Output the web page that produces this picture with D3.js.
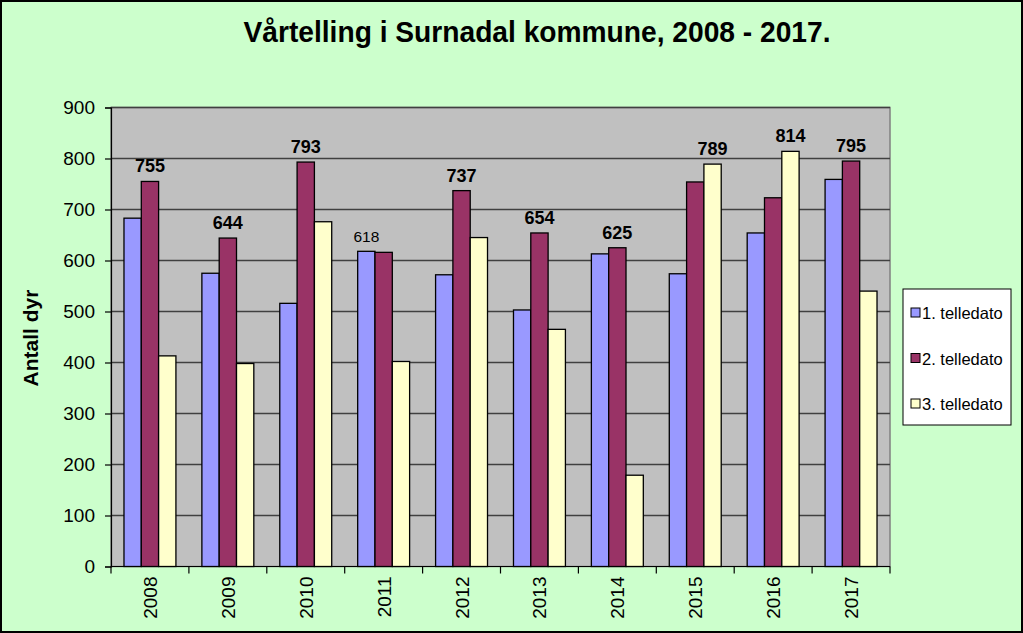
<!DOCTYPE html>
<html>
<head>
<meta charset="utf-8">
<script src="https://cdn.jsdelivr.net/npm/d3@7"></script>
<style>
  html, body { margin: 0; padding: 0; background: #fff; }
  svg { display: block; font-family: "Liberation Sans", Arial, sans-serif; }
</style>
</head>
<body>
<div id="chart"></div>
<script>
var years = ['2008', '2009', '2010', '2011', '2012', '2013', '2014', '2015', '2016', '2017']
var seriesNames = ['1. telledato', '2. telledato', '3. telledato']
var dato1 = [683, 575, 516, 618, 572, 503, 613, 574, 654, 759]
var dato2 = [755, 644, 793, 616, 737, 654, 625, 754, 723, 795]
var dato3 = [413, 398, 676, 402, 645, 465, 179, 789, 814, 540]
var yTicks = [0, 100, 200, 300, 400, 500, 600, 700, 800, 900]
// which series carries the value label in each year, and if it is bold
var labelSeries = [1, 1, 1, 0, 1, 1, 1, 2, 2, 1]
var labelBold = [true, true, true, false, true, true, true, true, true, true]
var colors = ['#9999ff', '#993366', '#ffffcc']

var W = 1023, H = 633
var plot = { left: 111, top: 107.5, right: 890, bottom: 566.5 }

var svg = d3.select('#chart').append('svg')
            .attr('width', W)
            .attr('height', H)

// chart area background and frame
svg.append('rect')
   .attr('x', 1).attr('y', 1)
   .attr('width', W - 2).attr('height', H - 2)
   .attr('fill', '#ccffcc')
   .attr('stroke', '#000')
   .attr('stroke-width', 2)

svg.append('text')
   .attr('x', 537).attr('y', 42)
   .attr('text-anchor', 'middle')
   .attr('font-family', '"Liberation Sans Narrow", "Arial Narrow", "Liberation Sans", sans-serif')
   .attr('font-weight', 'bold')
   .attr('font-size', 29)
   .attr('textLength', 587)
   .attr('lengthAdjust', 'spacingAndGlyphs')
   .text('Vårtelling i Surnadal kommune, 2008 - 2017.')

var x = d3.scaleBand().domain(years).range([plot.left, plot.right]).paddingInner(0).paddingOuter(0)
var inner = d3.scaleBand().domain([0, 1, 2]).range([0, x.bandwidth()]).paddingInner(0).paddingOuter(0.75)
var y = d3.scaleLinear().domain([0, 900]).range([plot.bottom, plot.top])

// plot area
svg.append('rect')
   .attr('x', plot.left).attr('y', plot.top)
   .attr('width', plot.right - plot.left).attr('height', plot.bottom - plot.top)
   .attr('fill', '#c0c0c0')
   .attr('stroke', '#808080')
   .attr('stroke-width', 1.5)

svg.append('g').selectAll('line')
   .data(yTicks.slice(1))
   .join('line')
   .attr('x1', plot.left).attr('x2', plot.right)
   .attr('y1', function (d) { return y(d) }).attr('y2', function (d) { return y(d) })
   .attr('stroke', '#404040')
   .attr('stroke-width', 1.3)

// bars
var data = [dato1, dato2, dato3]
var groups = svg.append('g').selectAll('g')
   .data(years)
   .join('g')
   .attr('transform', function (d) { return 'translate(' + x(d) + ',0)' })

groups.selectAll('rect')
   .data(function (d, i) { return data.map(function (s, k) { return { k: k, v: s[i] } }) })
   .join('rect')
   .attr('x', function (d) { return inner(d.k) })
   .attr('y', function (d) { return y(d.v) })
   .attr('width', inner.bandwidth())
   .attr('height', function (d) { return y(0) - y(d.v) })
   .attr('fill', function (d) { return colors[d.k] })
   .attr('stroke', '#000')
   .attr('stroke-width', 1.3)

// value labels
groups.append('text')
   .attr('x', function (d, i) { return inner(labelSeries[i]) + inner.bandwidth() / 2 })
   .attr('y', function (d, i) { return y(data[labelSeries[i]][i]) - 9 })
   .attr('text-anchor', 'middle')
   .attr('font-size', function (d, i) { return labelBold[i] ? 18 : 15.5 })
   .attr('font-weight', function (d, i) { return labelBold[i] ? 'bold' : 'normal' })
   .text(function (d, i) { return data[labelSeries[i]][i] })

// y axis
var yAxis = svg.append('g')
   .attr('transform', 'translate(' + plot.left + ',0)')
   .call(d3.axisLeft(y).tickValues(yTicks).tickSize(6).tickPadding(10))
yAxis.select('.domain').attr('stroke', '#000').attr('stroke-width', 1.2)
yAxis.selectAll('.tick line').attr('stroke', '#000').attr('stroke-width', 1.2)
yAxis.selectAll('text')
     .attr('font-size', 19)
     .attr('font-family', '"Liberation Sans", Arial, sans-serif')
     .attr('fill', '#000')

// x axis: ticks between categories
var xAxis = svg.append('g')
   .attr('transform', 'translate(0,' + plot.bottom + ')')
xAxis.append('line')
     .attr('x1', plot.left).attr('x2', plot.right)
     .attr('stroke', '#000').attr('stroke-width', 1.2)
xAxis.selectAll('line.tk')
     .data(years.concat(['end']))
     .join('line')
     .attr('class', 'tk')
     .attr('x1', function (d) { return d === 'end' ? plot.right : x(d) })
     .attr('x2', function (d) { return d === 'end' ? plot.right : x(d) })
     .attr('y1', 0).attr('y2', 7)
     .attr('stroke', '#000').attr('stroke-width', 1.2)
xAxis.selectAll('text')
     .data(years)
     .join('text')
     .attr('transform', function (d) { return 'translate(' + (x(d) + x.bandwidth() / 2 + 7) + ',10) rotate(-90)' })
     .attr('text-anchor', 'end')
     .attr('font-size', 19)
     .text(function (d) { return d })

svg.append('text')
   .attr('transform', 'translate(38,338) rotate(-90)')
   .attr('text-anchor', 'middle')
   .attr('dx', 0)
   .attr('font-size', 21)
   .attr('font-weight', 'bold')
   .text('Antall dyr')

// legend
var legend = svg.append('g').attr('transform', 'translate(903,289)')
legend.append('rect')
      .attr('width', 108).attr('height', 136)
      .attr('fill', '#fff')
      .attr('stroke', '#000')
      .attr('stroke-width', 1)
var items = legend.selectAll('g.item')
      .data(seriesNames)
      .join('g')
      .attr('class', 'item')
      .attr('transform', function (d, i) { return 'translate(0,' + (24 + i * 45.5) + ')' })
items.append('rect')
     .attr('x', 8).attr('y', -5)
     .attr('width', 9).attr('height', 9)
     .attr('fill', function (d, i) { return colors[i] })
     .attr('stroke', '#000')
     .attr('stroke-width', 1)
items.append('text')
     .attr('x', 19).attr('y', 6)
     .attr('font-size', 16.5)
     .text(function (d) { return d })
</script>
</body>
</html>
